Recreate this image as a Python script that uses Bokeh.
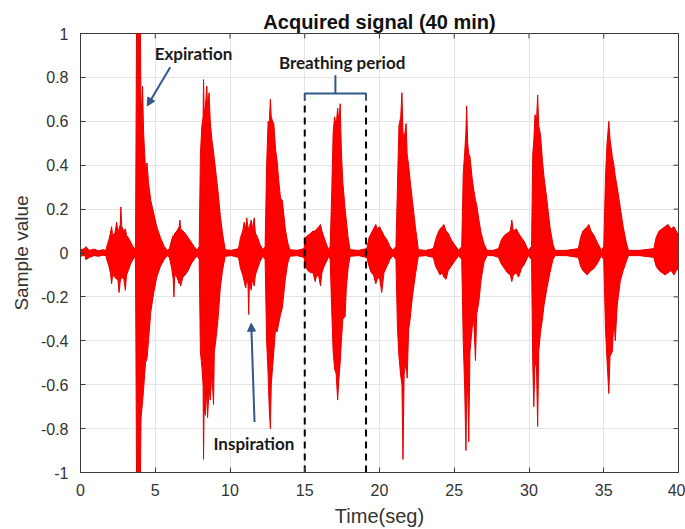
from bokeh.plotting import figure
from bokeh.models import Range1d, FixedTicker, Arrow, NormalHead, Label
from bokeh.embed import file_html
from bokeh.resources import INLINE

# ---- data: signal envelope (time in s, upper / lower value) ----
env_t = [0.0, 0.3, 0.35, 0.6, 0.9, 1.2, 1.5, 1.7,
         1.76, 1.9, 2.0, 2.08, 2.15, 2.3, 2.42, 2.5, 2.58, 2.66, 2.70, 2.76, 2.9, 3.0, 3.08, 3.2, 3.35, 3.5, 3.65,
         3.68, 3.75, 4.0, 4.05, 4.15, 4.22, 4.35, 4.45, 4.55, 4.7, 4.9, 5.1, 5.35, 5.6, 5.8,
         5.95, 6.1, 6.2, 6.25, 6.3, 6.45, 6.6, 6.65, 6.7, 6.85, 7.0, 7.2, 7.4, 7.6, 7.8,
         7.94, 8.02, 8.12, 8.2, 8.23, 8.27, 8.35, 8.45, 8.5, 8.6, 8.68, 8.78, 8.9, 8.95, 9.05, 9.2, 9.35, 9.5, 9.68,
         10.1, 10.57, 10.7, 10.85, 10.95, 11.05, 11.12, 11.2, 11.25, 11.3, 11.42, 11.5, 11.62, 11.7, 11.85, 12.0, 12.2,
         12.35, 12.45, 12.55, 12.62, 12.7, 12.76, 12.85, 12.93, 13.05, 13.15, 13.26, 13.38, 13.5, 13.7, 13.85, 14.0,
         14.5, 14.95, 15.05, 15.2, 15.4, 15.55, 15.7, 15.8, 15.95, 16.05, 16.15, 16.3, 16.45, 16.6,
         16.7, 16.8, 16.9, 17.0, 17.1, 17.2, 17.28, 17.37, 17.45, 17.55, 17.7, 17.78, 17.9, 18.03,
         18.6, 19.15, 19.3, 19.45, 19.6, 19.75, 19.85, 20.0, 20.15, 20.3, 20.5, 20.7, 20.9,
         21.1, 21.2, 21.3, 21.42, 21.5, 21.57, 21.65, 21.78, 21.85, 21.95, 22.05, 22.2, 22.4, 22.6,
         23.1, 23.6, 23.75, 23.9, 24.05, 24.2, 24.3, 24.45, 24.6, 24.8, 25.0, 25.3,
         25.5, 25.6, 25.7, 25.78, 25.83, 25.9, 25.97, 26.05, 26.2, 26.3, 26.42, 26.5, 26.65, 26.8, 27.0, 27.2,
         27.6, 27.96, 28.15, 28.35, 28.55, 28.75, 28.85, 28.95, 29.15, 29.3, 29.5, 29.7, 29.95,
         30.17, 30.25, 30.32, 30.4, 30.5, 30.58, 30.65, 30.77, 30.9, 31.0, 31.2, 31.4, 31.6, 31.75,
         32.5, 33.3, 33.45, 33.6, 33.75, 33.9, 34.0, 34.15, 34.35, 34.55, 34.85,
         35.0, 35.12, 35.22, 35.34, 35.42, 35.57, 35.68, 35.77, 35.9, 36.1, 36.3, 36.5, 36.65,
         37.4, 38.35, 38.5, 38.7, 38.9, 39.1, 39.3, 39.5, 39.7, 39.85, 40.0]
env_hi = [0.015, 0.02, 0.03, 0.012, 0.018, 0.01, 0.015, 0.012,
          0.03, 0.06, 0.09, 0.12, 0.08, 0.09, 0.14, 0.10, 0.11, 0.13, 0.21, 0.12, 0.10, 0.11, 0.08, 0.07, 0.05, 0.03, 0.015,
          0.05, 1.05, 1.05, 0.62, 0.76, 0.55, 0.38, 0.41, 0.32, 0.24, 0.18, 0.12, 0.07, 0.03, 0.012,
          0.02, 0.06, 0.08, 0.07, 0.09, 0.10, 0.12, 0.15, 0.11, 0.10, 0.09, 0.07, 0.05, 0.03, 0.012,
          0.03, 0.45, 0.58, 0.62, 0.79, 0.65, 0.66, 0.76, 0.66, 0.73, 0.60, 0.52, 0.46, 0.43, 0.37, 0.28, 0.17, 0.09, 0.015,
          0.012, 0.02, 0.07, 0.10, 0.14, 0.11, 0.16, 0.12, 0.11, 0.12, 0.15, 0.11, 0.16, 0.09, 0.07, 0.04, 0.015,
          0.03, 0.40, 0.60, 0.58, 0.70, 0.62, 0.60, 0.59, 0.47, 0.42, 0.33, 0.25, 0.24, 0.11, 0.05, 0.015,
          0.012, 0.02, 0.07, 0.08, 0.09, 0.10, 0.10, 0.11, 0.12, 0.13, 0.10, 0.07, 0.04, 0.015,
          0.03, 0.26, 0.55, 0.62, 0.58, 0.66, 0.60, 0.68, 0.46, 0.32, 0.20, 0.15, 0.07, 0.015,
          0.012, 0.02, 0.07, 0.09, 0.11, 0.13, 0.11, 0.12, 0.10, 0.08, 0.06, 0.03, 0.012,
          0.03, 0.30, 0.58, 0.62, 0.73, 0.55, 0.52, 0.59, 0.45, 0.40, 0.33, 0.24, 0.12, 0.015,
          0.012, 0.02, 0.06, 0.09, 0.11, 0.12, 0.13, 0.10, 0.09, 0.06, 0.04, 0.012,
          0.03, 0.36, 0.46, 0.55, 0.67, 0.50, 0.45, 0.44, 0.34, 0.29, 0.24, 0.22, 0.15, 0.09, 0.04, 0.012,
          0.012, 0.02, 0.06, 0.08, 0.09, 0.10, 0.15, 0.10, 0.11, 0.09, 0.07, 0.05, 0.012,
          0.03, 0.45, 0.51, 0.63, 0.60, 0.72, 0.58, 0.54, 0.42, 0.35, 0.24, 0.12, 0.04, 0.012,
          0.012, 0.02, 0.07, 0.10, 0.11, 0.12, 0.13, 0.10, 0.08, 0.05, 0.012,
          0.03, 0.35, 0.50, 0.60, 0.52, 0.44, 0.40, 0.35, 0.30, 0.21, 0.12, 0.05, 0.012,
          0.012, 0.02, 0.07, 0.10, 0.11, 0.12, 0.13, 0.11, 0.12, 0.10, 0.08]
env_lo = [-0.015, -0.01, -0.03, -0.02, -0.012, -0.015, -0.01, -0.012,
          -0.03, -0.06, -0.09, -0.14, -0.10, -0.11, -0.12, -0.12, -0.18, -0.13, -0.12, -0.11, -0.12, -0.17, -0.10, -0.08, -0.05, -0.03, -0.015,
          -0.05, -1.05, -1.05, -0.75, -0.68, -0.62, -0.50, -0.48, -0.40, -0.27, -0.18, -0.11, -0.06, -0.03, -0.012,
          -0.02, -0.07, -0.12, -0.20, -0.10, -0.11, -0.14, -0.12, -0.15, -0.11, -0.10, -0.08, -0.05, -0.03, -0.012,
          -0.03, -0.45, -0.52, -0.60, -0.94, -0.70, -0.74, -0.62, -0.75, -0.62, -0.67, -0.55, -0.69, -0.45, -0.40, -0.30, -0.16, -0.08, -0.015,
          -0.012, -0.02, -0.07, -0.10, -0.13, -0.16, -0.12, -0.14, -0.28, -0.13, -0.17, -0.12, -0.15, -0.10, -0.07, -0.04, -0.015,
          -0.03, -0.40, -0.55, -0.70, -0.80, -0.60, -0.52, -0.45, -0.34, -0.36, -0.32, -0.28, -0.25, -0.12, -0.05, -0.015,
          -0.012, -0.02, -0.06, -0.08, -0.09, -0.09, -0.13, -0.10, -0.11, -0.15, -0.09, -0.06, -0.04, -0.015,
          -0.03, -0.25, -0.45, -0.53, -0.55, -0.67, -0.58, -0.50, -0.40, -0.30, -0.29, -0.16, -0.07, -0.015,
          -0.012, -0.02, -0.06, -0.09, -0.10, -0.14, -0.12, -0.11, -0.18, -0.09, -0.06, -0.03, -0.012,
          -0.03, -0.34, -0.47, -0.56, -0.60, -0.94, -0.55, -0.50, -0.57, -0.35, -0.30, -0.20, -0.10, -0.015,
          -0.012, -0.02, -0.06, -0.08, -0.10, -0.09, -0.11, -0.12, -0.08, -0.06, -0.04, -0.012,
          -0.03, -0.40, -0.62, -0.90, -0.65, -0.62, -0.86, -0.45, -0.34, -0.30, -0.49, -0.28, -0.22, -0.12, -0.04, -0.012,
          -0.012, -0.02, -0.05, -0.07, -0.09, -0.10, -0.13, -0.10, -0.09, -0.11, -0.07, -0.05, -0.012,
          -0.03, -0.50, -0.70, -0.50, -0.52, -0.79, -0.45, -0.36, -0.30, -0.24, -0.16, -0.09, -0.03, -0.012,
          -0.012, -0.02, -0.06, -0.08, -0.09, -0.10, -0.09, -0.08, -0.07, -0.05, -0.012,
          -0.03, -0.35, -0.49, -0.64, -0.47, -0.45, -0.30, -0.40, -0.24, -0.13, -0.08, -0.04, -0.012,
          -0.012, -0.02, -0.06, -0.08, -0.09, -0.10, -0.09, -0.08, -0.10, -0.08, -0.07]

x_ticks = [0, 5, 10, 15, 20, 25, 30, 35, 40]
x_tick_labels = ["0", "5", "10", "15", "20", "25", "30", "35", "40"]
y_ticks = [-1.0, -0.8, -0.6, -0.4, -0.2, 0.0, 0.2, 0.4, 0.6, 0.8, 1.0]
y_tick_labels = ["-1", "-0.8", "-0.6", "-0.4", "-0.2", "0", "0.2", "0.4", "0.6", "0.8", "1"]

x_min, x_max = 0, 40
y_min, y_max = -1, 1

# breathing-period marker (times in s, values in signal units)
period_start = 15.0
period_end = 19.1
period_line_top = 0.70
bracket_level = 0.727
bracket_stem_top = 0.81

# annotation anchors (data units)
expiration_text = (7.56, 0.91)
expiration_arrow = (6.0, 0.846, 4.46, 0.67)
inspiration_text = (11.6, -0.868)
inspiration_arrow = (11.64, -0.77, 11.42, -0.32)
breathing_text = (17.5, 0.87)

SIG = "#ff0000"
BLUE = "#34578a"
INK = "#1a1a1a"
AX = "#3a3a3a"
LBL = "#333333"

p = figure(width=685, height=529, output_backend="svg", toolbar_location=None,
           x_range=Range1d(x_min, x_max), y_range=Range1d(y_min, y_max),
           title="Acquired signal (40 min)")
p.min_border_left = 80
p.min_border_right = 7
p.min_border_top = 33
p.min_border_bottom = 57
p.background_fill_color = "white"
p.border_fill_color = "white"
p.outline_line_color = AX
p.outline_line_width = 1

p.title.align = "center"
p.title.text_font = "Liberation Sans"
p.title.text_font_size = "20px"
p.title.text_font_style = "bold"
p.title.text_color = "#111111"
p.title.standoff = 2

for ax in (p.xaxis[0], p.yaxis[0]):
    ax.major_tick_in = 5
    ax.major_tick_out = 0
    ax.minor_tick_line_color = None
    ax.axis_line_color = AX
    ax.major_tick_line_color = AX
    ax.major_label_text_font = "Liberation Sans"
    ax.major_label_text_font_size = "16px"
    ax.major_label_text_color = LBL
    ax.axis_label_text_font = "Liberation Sans"
    ax.axis_label_text_font_style = "normal"
    ax.axis_label_text_color = LBL

p.xaxis.axis_label_text_font_size = "20px"
p.yaxis.axis_label_text_font_size = "19px"
p.xaxis.ticker = FixedTicker(ticks=x_ticks)
p.yaxis.ticker = FixedTicker(ticks=y_ticks)
p.xaxis.major_label_overrides = dict(zip(x_ticks, x_tick_labels))
p.yaxis.major_label_overrides = dict(zip(y_ticks, y_tick_labels))
p.xaxis.axis_label = "Time(seg)"
p.yaxis.axis_label = "Sample value"
p.xaxis.major_label_standoff = 11
p.yaxis.major_label_standoff = 12
p.xaxis.axis_label_standoff = 6
p.yaxis.axis_label_standoff = 6

p.xgrid.grid_line_color = "#e4e4e4"
p.ygrid.grid_line_color = "#e4e4e4"

# inward tick marks on the top and right edges of the box (MATLAB style)
tick_dx = 5 * (x_max - x_min) / 598.0
tick_dy = 5 * (y_max - y_min) / 439.0
p.segment(x0=x_ticks, y0=[y_max] * len(x_ticks), x1=x_ticks, y1=[y_max - tick_dy] * len(x_ticks),
          line_color=AX, line_width=1)
p.segment(x0=[x_max] * len(y_ticks), y0=y_ticks, x1=[x_max - tick_dx] * len(y_ticks), y1=y_ticks,
          line_color=AX, line_width=1)

# signal
p.varea(x=env_t, y1=env_lo, y2=env_hi, fill_color=SIG)
p.line(env_t, env_hi, line_color="#e60000", line_width=1)
p.line(env_t, env_lo, line_color="#e60000", line_width=1)

# breathing-period markers
for xv in (period_start, period_end):
    p.line([xv, xv], [y_min, period_line_top], line_color="black", line_width=2, line_dash="7 5")
p.line([period_start, period_start, period_end, period_end],
       [period_line_top, bracket_level, bracket_level, period_line_top],
       line_color=BLUE, line_width=2)
mid = (period_start + period_end) / 2
p.line([mid, mid], [bracket_level, bracket_stem_top], line_color=BLUE, line_width=2)

# annotations
for (tx, ty), txt in ((expiration_text, "Expiration"), (inspiration_text, "Inspiration"),
                      (breathing_text, "Breathing period")):
    p.add_layout(Label(x=tx, y=ty, text=txt, text_font="Lato", text_font_style="bold",
                       text_font_size="17px", text_color=INK,
                       text_align="center", text_baseline="middle"))

for (x0, y0, x1, y1) in (expiration_arrow, inspiration_arrow):
    p.add_layout(Arrow(x_start=x0, y_start=y0, x_end=x1, y_end=y1,
                       line_color=BLUE, line_width=2,
                       end=NormalHead(size=8, fill_color=BLUE, line_color=BLUE)))

open("out.html", "w").write(file_html(p, INLINE))
